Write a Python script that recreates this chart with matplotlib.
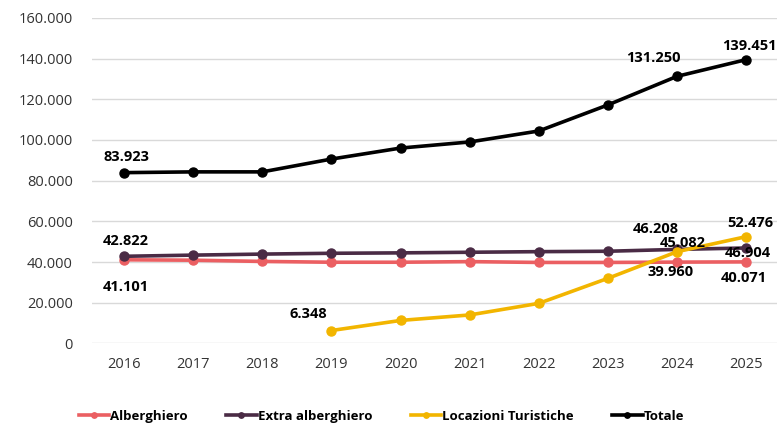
import matplotlib.pyplot as plt

plt.rcParams['font.family'] = ['Open Sans', 'DejaVu Sans']

years = [2016, 2017, 2018, 2019, 2020, 2021, 2022, 2023, 2024, 2025]
alberghiero = [41101, 40900, 40300, 39900, 39900, 40200, 39800, 39800, 39960, 40071]
extra = [42822, 43400, 43900, 44300, 44500, 44800, 45100, 45300, 46208, 46904]
locazioni_years = [2019, 2020, 2021, 2022, 2023, 2024, 2025]
locazioni = [6348, 11300, 14000, 19700, 32000, 45082, 52476]
totale = [83923, 84300, 84300, 90600, 96000, 99000, 104400, 117200, 131250, 139451]

c_alb = '#EB5F62'
c_ext = '#4A2B45'
c_loc = '#F2B500'
c_tot = '#000000'


def fmt(v):
    return f'{v:,}'.replace(',', '.')


fig = plt.figure(figsize=(7.82, 4.24), dpi=100)
ax = fig.add_axes([0.118, 0.19, 0.876, 0.768])

kw = dict(linewidth=2.6, marker='o', markersize=6.5)
ax.plot(years, alberghiero, color=c_alb, label='Alberghiero', **kw)
ax.plot(years, extra, color=c_ext, label='Extra alberghiero', **kw)
ax.plot(locazioni_years, locazioni, color=c_loc, label='Locazioni Turistiche', **kw)
ax.plot(years, totale, color=c_tot, label='Totale', **kw)

ax.set_ylim(0, 160000)
ax.set_xlim(2015.54, 2025.45)
ax.set_yticks(range(0, 160001, 20000))
ax.set_yticklabels([fmt(v) for v in range(0, 160001, 20000)])
ax.set_xticks(years)
ax.grid(axis='y', color='#D9D9D9', linewidth=1)
ax.set_axisbelow(True)
for s in ax.spines.values():
    s.set_visible(False)
ax.tick_params(length=0, labelsize=10.5, colors='#333333')
ax.tick_params(axis='x', pad=10)
ax.tick_params(axis='y', pad=14)

lab = dict(fontsize=10.5, fontweight='bold', color='black', ha='center')


# data labels (offsets in points)
def put(x, y, dx, dy):
    ax.annotate(fmt(y), (x, y), xytext=(dx, dy), textcoords='offset points', va='center', **lab)


put(2016, totale[0], 2, 11.5)
put(2024, totale[8], -17, 13)
put(2025, totale[9], 2, 10)
put(2016, extra[0], 1, 11)
put(2024, extra[8], -15, 15)
put(2025, extra[9], 1, -3.6)
put(2016, alberghiero[0], 1, -19.5)
put(2024, alberghiero[8], -5, -7)
put(2025, alberghiero[9], -2, -11.5)
put(2019, locazioni[0], -17, 12)
put(2024, locazioni[5], 4, 6)
put(2025, locazioni[6], 3, 10)

leg = fig.legend(loc='center', bbox_to_anchor=(0.488, 0.018), ncol=4, frameon=False,
                 prop={'weight': 'bold', 'size': 9.5}, handlelength=2.3, handletextpad=0.1,
                 columnspacing=2.9, markerscale=0.6)

fig.savefig('out.png', dpi=100)
